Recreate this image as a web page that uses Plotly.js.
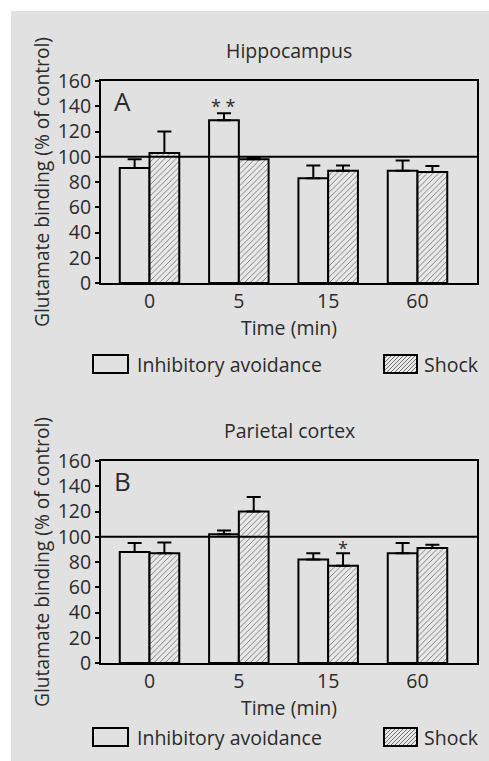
<!DOCTYPE html>
<html>
<head>
<meta charset="utf-8">
<script src="https://cdn.plot.ly/plotly-3.0.1.min.js"></script>
<style>
  html, body { margin: 0; padding: 0; background: #ffffff; }
  #chart { position: absolute; left: 11px; top: 11px; width: 478px; height: 750px; }
</style>
</head>
<body>
<div id="chart"></div>
<script>
// ---- data ----
const timeLabels = ["0", "5", "15", "60"];
const hippoAvoid = [91, 129, 83, 89];
const hippoAvoidErr = [7, 5.5, 10, 8];
const hippoShock = [103, 98, 89, 88];
const hippoShockErr = [17, 1, 4, 4.7];
const parietalAvoid = [88, 102, 82, 87];
const parietalAvoidErr = [7, 3, 5, 8];
const parietalShock = [87, 120, 77, 91];
const parietalShockErr = [8.5, 11.4, 10, 2.6];
const seriesNames = ["Inhibitory avoidance", "Shock"];
const panelTitles = ["Hippocampus", "Parietal cortex"];
const panelLetters = ["A", "B"];
const yTicks = [0, 20, 40, 60, 80, 100, 120, 140, 160];

// ---- layout geometry (div pixels) ----
const W = 478, H = 750, ML = 90, MR = 12, MT = 70, MB = 98;
const PW = W - ML - MR, PH = H - MT - MB;
const px = x => (x - ML) / PW;
const py = y => (H - MB - y) / PH;

const BG = "#e1e1e1";
const TXT = "#2b2b2b";
const FONT = "Open Sans, sans-serif";
const FS = 19.5;

function zeros(n) { return new Array(n).fill(0); }

function bars(xa, ya, vals, errs, name, hatch) {
  const m = { color: BG, line: { color: "#000", width: 2 } };
  if (hatch) {
    m.pattern = { shape: "/", fgcolor: "#707070", bgcolor: "#e9e9e9", size: 4, solidity: 0.22 };
  }
  return {
    type: "bar", x: timeLabels, y: vals, name: name, xaxis: xa, yaxis: ya,
    marker: m, showlegend: false,
    error_y: { type: "data", symmetric: false, array: errs, arrayminus: zeros(errs.length),
               color: "#000", thickness: 2, width: 7 }
  };
}

const data = [
  bars("x", "y", hippoAvoid, hippoAvoidErr, seriesNames[0], false),
  bars("x", "y", hippoShock, hippoShockErr, seriesNames[1], true),
  bars("x2", "y2", parietalAvoid, parietalAvoidErr, seriesNames[0], false),
  bars("x2", "y2", parietalShock, parietalShockErr, seriesNames[1], true)
];

const xCommon = {
  type: "category", range: [-0.543, 3.666], showline: true, mirror: true,
  linecolor: "#000", linewidth: 2, ticks: "", showgrid: false, zeroline: false,
  tickfont: { family: FONT, size: FS, color: TXT },
  title: { text: "Time (min)", font: { family: FONT, size: FS, color: TXT }, standoff: 0 }
};
const yCommon = {
  range: [0, 160], tickvals: yTicks, showline: true, mirror: true,
  linecolor: "#000", linewidth: 2, ticks: "outside", ticklen: 4, tickwidth: 2, tickcolor: "#000",
  showgrid: false, zeroline: false,
  tickfont: { family: FONT, size: FS, color: TXT },
  title: { text: "Glutamate binding (% of control)", font: { family: FONT, size: 19.2, color: TXT }, standoff: 3 }
};

const annotations = [];
const shapes = [];
const axesRefs = [["x", "y"], ["x2", "y2"]];
axesRefs.forEach((r, i) => {
  annotations.push({ text: panelTitles[i], xref: r[0] + " domain", yref: r[1] + " domain",
    x: 0.5, y: 1.153, xanchor: "center", yanchor: "middle", showarrow: false,
    font: { family: FONT, size: FS, color: TXT } });
  annotations.push({ text: panelLetters[i], xref: r[0] + " domain", yref: r[1] + " domain",
    x: 0.056, y: 0.90, xanchor: "center", yanchor: "middle", showarrow: false,
    font: { family: FONT, size: 26, color: TXT } });
  shapes.push({ type: "line", xref: r[0] + " domain", yref: r[1], x0: 0, x1: 1, y0: 100, y1: 100,
    line: { color: "#000", width: 2 } });
});

// significance marks
annotations.push({ text: "* *", xref: "x", yref: "y", x: 1 - 0.1665, y: hippoAvoid[1] + hippoAvoidErr[1],
  yanchor: "bottom", xanchor: "center", showarrow: false, yshift: -7,
  font: { family: FONT, size: 18, color: TXT } });
annotations.push({ text: "*", xref: "x2", yref: "y2", x: 2 + 0.1665, y: parietalShock[2] + parietalShockErr[2],
  yanchor: "bottom", xanchor: "center", showarrow: false, yshift: -9,
  font: { family: FONT, size: 18, color: TXT } });

// custom legends (one under each panel)
const legendRows = [353, 726];
legendRows.forEach(cy => {
  const top = cy - 9, bot = cy + 9;
  shapes.push({ type: "rect", xref: "paper", yref: "paper",
    x0: px(82), x1: px(117), y0: py(bot), y1: py(top),
    fillcolor: BG, line: { color: "#000", width: 2 } });
  annotations.push({ text: seriesNames[0], xref: "paper", yref: "paper", x: px(124), y: py(cy),
    xanchor: "left", yanchor: "middle", showarrow: false, font: { family: FONT, size: FS, color: TXT } });
  const bx0 = 373, bx1 = 406;
  shapes.push({ type: "rect", xref: "paper", yref: "paper",
    x0: px(bx0), x1: px(bx1), y0: py(bot), y1: py(top),
    fillcolor: "#e9e9e9", line: { width: 0 } });
  let path = "";
  const h = bot - top;
  for (let s = bx0 - h; s < bx1; s += 4) {
    let xa = s, ya = bot, xb = s + h, yb = top;
    if (xa < bx0) { ya = bot - (bx0 - xa); xa = bx0; }
    if (xb > bx1) { yb = top + (xb - bx1); xb = bx1; }
    if (xb <= xa) continue;
    path += `M${px(xa)},${py(ya)}L${px(xb)},${py(yb)}`;
  }
  shapes.push({ type: "path", xref: "paper", yref: "paper", path: path,
    line: { color: "#707070", width: 1 } });
  shapes.push({ type: "rect", xref: "paper", yref: "paper",
    x0: px(bx0), x1: px(bx1), y0: py(bot), y1: py(top),
    fillcolor: "rgba(0,0,0,0)", line: { color: "#000", width: 2 } });
  annotations.push({ text: seriesNames[1], xref: "paper", yref: "paper", x: px(411), y: py(cy),
    xanchor: "left", yanchor: "middle", showarrow: false, font: { family: FONT, size: FS, color: TXT } });
});

const layout = {
  width: W, height: H,
  margin: { l: ML, r: MR, t: MT, b: MB, pad: 0 },
  paper_bgcolor: BG, plot_bgcolor: BG,
  barmode: "group", bargap: 0.334, bargroupgap: 0,
  showlegend: false,
  xaxis: Object.assign({}, xCommon, { anchor: "y" }),
  yaxis: Object.assign({}, yCommon, { domain: [py(272), 1], anchor: "x" }),
  xaxis2: Object.assign({}, xCommon, { anchor: "y2" }),
  yaxis2: Object.assign({}, yCommon, { domain: [0, py(450)], anchor: "x2" }),
  annotations: annotations,
  shapes: shapes
};

Plotly.newPlot("chart", data, layout, { displayModeBar: false, staticPlot: true });
</script>
</body>
</html>
